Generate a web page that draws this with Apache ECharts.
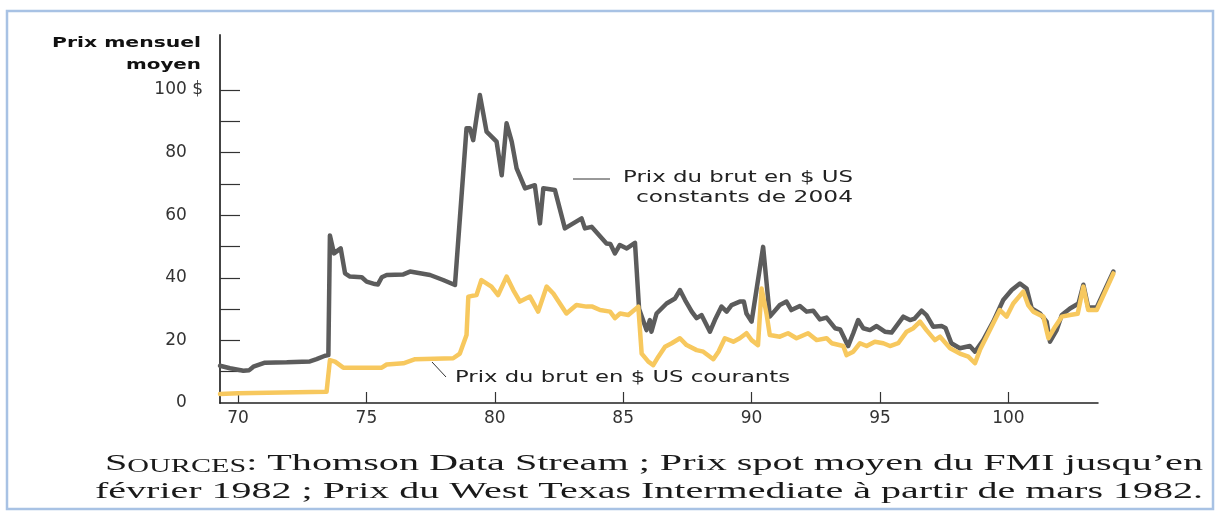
<!DOCTYPE html>
<html>
<head>
<meta charset="utf-8">
<script src="https://cdn.jsdelivr.net/npm/echarts@6/dist/echarts.min.js"></script>
<style>
html,body{margin:0;padding:0;background:#fff;}
#chart{width:1218px;height:516px;}
</style>
</head>
<body>
<div id="chart"></div>
<script>
// ---- data (years as 2-digit values, 100 = 2000) ----
const realYears = [69.30,69.69,70.21,70.44,70.60,71.05,71.90,72.80,73.06,73.39,73.52,73.58,73.74,74.00,74.17,74.36,74.82,75.01,75.33,75.45,75.60,75.79,76.44,76.70,77.48,77.99,78.45,78.90,79.03,79.16,79.42,79.55,79.68,80.07,80.27,80.46,80.66,80.85,81.18,81.56,81.76,81.89,82.34,82.73,83.38,83.51,83.77,84.35,84.50,84.68,84.87,85.14,85.46,85.62,85.91,86.04,86.10,86.30,86.69,87.02,87.21,87.41,87.67,87.86,88.05,88.38,88.57,88.83,89.03,89.22,89.54,89.70,89.80,90.00,90.45,90.71,91.10,91.36,91.55,91.88,92.14,92.40,92.66,92.92,93.25,93.45,93.76,93.96,94.15,94.35,94.61,94.87,95.19,95.45,95.58,95.91,96.17,96.35,96.62,96.81,97.07,97.40,97.55,97.78,98.11,98.50,98.70,99.02,99.41,99.80,100.13,100.45,100.71,100.91,101.23,101.49,101.62,101.88,102.08,102.40,102.73,102.92,103.11,103.44,104.09];
const realPrices = [11.9,11.1,10.3,10.5,11.6,12.9,13.0,13.3,14.0,15.1,15.3,53.5,47.8,49.4,41.4,40.4,40.2,38.8,38.0,37.9,40.2,40.9,41.1,42.0,40.9,39.3,37.7,87.8,87.8,84.0,98.4,92.6,86.7,83.5,72.8,89.4,83.5,75.0,68.6,69.6,57.4,68.6,68.1,55.8,59.0,55.8,56.3,51.0,50.8,47.8,50.5,49.4,51.2,30.0,23.3,26.5,22.8,28.6,31.8,33.4,36.1,32.9,29.2,27.1,28.1,22.8,26.5,30.8,29.2,31.3,32.4,32.4,28.6,26.0,49.9,27.6,31.3,32.4,29.7,31.0,29.2,29.5,26.7,27.3,23.9,23.5,18.2,22.3,26.5,23.9,23.3,24.6,22.8,22.5,23.9,27.6,26.5,27.0,29.5,28.1,24.4,24.6,24.0,19.1,17.5,18.2,16.4,20.1,26.0,32.9,36.1,38.2,36.6,30.2,28.6,26.0,19.6,23.3,28.1,30.2,31.8,37.8,30.5,30.5,42.0];

const nominalYears = [69.30,70.00,73.45,73.58,73.78,74.10,75.60,75.79,76.44,76.90,78.38,78.64,78.90,78.97,79.29,79.48,79.87,80.13,80.46,80.72,80.98,81.37,81.69,82.02,82.28,82.79,83.18,83.57,83.80,84.10,84.49,84.68,84.88,85.20,85.59,85.72,85.98,86.17,86.37,86.63,86.89,87.21,87.47,87.86,88.12,88.51,88.71,88.96,89.29,89.54,89.80,90.00,90.25,90.39,90.58,90.71,91.10,91.42,91.75,92.20,92.53,92.92,93.12,93.57,93.70,93.96,94.22,94.48,94.80,95.13,95.39,95.71,96.04,96.30,96.56,96.81,97.14,97.34,97.73,98.11,98.44,98.70,98.89,99.28,99.67,99.93,100.19,100.58,100.77,100.97,101.36,101.56,101.82,102.08,102.40,102.70,102.92,103.11,103.44,104.09];
const nominalPrices = [2.9,3.1,3.6,13.7,13.2,11.3,11.3,12.3,12.7,14.0,14.3,15.8,21.7,34.0,34.5,39.3,37.2,34.5,40.4,36.1,32.4,34.0,29.2,37.2,35.0,28.6,31.3,30.8,30.8,29.7,29.2,27.1,28.6,28.1,30.8,15.8,13.2,12.1,14.8,18.0,19.1,20.7,18.5,16.9,16.4,14.0,16.4,20.7,19.6,20.7,22.3,20.1,18.5,36.6,28.6,21.7,21.2,22.3,20.7,22.3,20.1,20.7,19.1,18.2,15.3,16.4,19.1,18.2,19.6,19.1,18.2,19.1,22.8,23.9,26.0,23.3,20.1,21.2,17.5,15.8,14.8,12.7,16.9,23.3,29.7,27.6,31.8,35.6,31.3,29.2,27.6,20.7,24.4,27.6,28.1,28.5,37.2,29.7,29.7,41.4];

const xTickValues = [70,75,80,85,90,95,100];
const yLabelValues = [0,20,40,60,80,100];
const yTickValues = [10,20,30,40,50,60,70,80,90,100];

const axisTitleLines = ['Prix mensuel', 'moyen'];
const realLabelLines = ['Prix du brut en $ US', 'constants de 2004'];
const nominalLabel = 'Prix du brut en $ US courants';
const sourceLine1Rest = ': Thomson Data Stream ; Prix spot moyen du FMI jusqu\u2019en';
const sourceLine2 = 'f\u00e9vrier 1982 ; Prix du West Texas Intermediate \u00e0 partir de mars 1982.';

// ---- layout ----
const W = 1218;
const GRID_LEFT = 220, GRID_TOP = 35, GRID_BOTTOM = 113;
const AXIS_RIGHT_PX = 1098;          // where the drawn x-axis stops
const X_MIN = 69.3, X_AXIS_MAX = 103.49, X_DATA_MAX = 104.25; // data run slightly past the axis end
const Y_MIN = 0, Y_MAX = 117.6;
const pxPerYear = (AXIS_RIGHT_PX - GRID_LEFT) / (X_AXIS_MAX - X_MIN);
const dataRightPx = GRID_LEFT + (X_DATA_MAX - X_MIN) * pxPerYear;

// ---- helpers ----
const ctx = document.createElement('canvas').getContext('2d');
function measure(text, font) { ctx.font = font; return ctx.measureText(text).width; }

const sansFont = '"DejaVu Sans", sans-serif';
const serifFont = '"Liberation Serif", "DejaVu Serif", serif';

function stretchText(text, anchorX, y, align, size, weight, family, targetWidth, color) {
  const font = weight + ' ' + size + 'px ' + family;
  const s = targetWidth / measure(text, font);
  return {
    type: 'text', x: anchorX, y: y, scaleX: s, originX: 0, originY: 0, z: 50,
    style: { text: text, x: 0, y: 0, align: align, verticalAlign: 'middle',
      font: font, fill: color }
  };
}

const graphics = [];
graphics.push({ type: 'rect', z: 1, shape: { x: 7, y: 11, width: 1206, height: 498 },
  style: { fill: 'none', stroke: '#a8c2e4', lineWidth: 2.5 } });
graphics.push(stretchText(axisTitleLines[0], 201, 43, 'right', 14.5, 'bold', sansFont, 149, '#111'));
graphics.push(stretchText(axisTitleLines[1], 201, 65, 'right', 14.5, 'bold', sansFont, 75, '#111'));
graphics.push(stretchText(realLabelLines[0], 853, 178, 'right', 15.5, 'normal', sansFont, 230, '#222'));
graphics.push(stretchText(realLabelLines[1], 853, 198, 'right', 15.5, 'normal', sansFont, 217, '#222'));
graphics.push(stretchText(nominalLabel, 455, 378, 'left', 15.5, 'normal', sansFont, 335, '#222'));
graphics.push({ type: 'line', z: 50, shape: { x1: 573, y1: 179, x2: 610, y2: 179 }, style: { stroke: '#333', lineWidth: 1 } });
graphics.push({ type: 'line', z: 50, shape: { x1: 432, y1: 362, x2: 446, y2: 377 }, style: { stroke: '#333', lineWidth: 1 } });

(function () {
  const big = 24, small = 18;
  const w1 = measure('S', 'normal ' + big + 'px ' + serifFont) +
             measure('OURCES', 'normal ' + small + 'px ' + serifFont) +
             measure(sourceLine1Rest, 'normal ' + big + 'px ' + serifFont);
  const s1 = (1203 - 105) / w1;
  graphics.push({
    type: 'text', x: 1203, y: 464, scaleX: s1, z: 50,
    style: {
      text: '{a|S}{b|OURCES}{a|' + sourceLine1Rest + '}',
      x: 0, y: 0, align: 'right', verticalAlign: 'middle',
      font: 'normal ' + big + 'px ' + serifFont, fill: '#1a1a1a',
      rich: {
        a: { fontSize: big, fontFamily: serifFont, fill: '#1a1a1a', color: '#1a1a1a' },
        b: { fontSize: small, fontFamily: serifFont, fill: '#1a1a1a', color: '#1a1a1a', verticalAlign: 'bottom' }
      }
    }
  });
  graphics.push(stretchText(sourceLine2, 1203, 492, 'right', big, 'normal', serifFont, 1203 - 95, '#1a1a1a'));
})();

const chart = echarts.init(document.getElementById('chart'), null, { renderer: 'canvas' });
chart.setOption({
  animation: false,
  backgroundColor: '#fff',
  grid: [
    // grid 0: plotting area for the series (extends a little past the drawn axis)
    { left: GRID_LEFT, right: W - dataRightPx, top: GRID_TOP, bottom: GRID_BOTTOM, containLabel: false },
    // grid 1: the visible axes
    { left: GRID_LEFT, right: W - AXIS_RIGHT_PX, top: GRID_TOP, bottom: GRID_BOTTOM, containLabel: false }
  ],
  xAxis: [
    { gridIndex: 0, type: 'value', min: X_MIN, max: X_DATA_MAX, show: false },
    {
      gridIndex: 1, type: 'value', min: X_MIN, max: X_AXIS_MAX,
      axisLine: { show: true, lineStyle: { color: '#222', width: 1.5 } },
      axisTick: { show: true, inside: true, length: 11, customValues: xTickValues, lineStyle: { color: '#333', width: 1.2 } },
      axisLabel: { customValues: xTickValues, margin: 7, fontSize: 17, fontFamily: sansFont, color: '#333' },
      splitLine: { show: false }
    }
  ],
  yAxis: [
    { gridIndex: 0, type: 'value', min: Y_MIN, max: Y_MAX, show: false },
    {
      gridIndex: 1, type: 'value', min: Y_MIN, max: Y_MAX,
      axisLine: { show: true, lineStyle: { color: '#444', width: 2 } },
      axisTick: { show: true, inside: true, length: 20, customValues: yTickValues, lineStyle: { color: '#333', width: 1.2 } },
      axisLabel: {
        customValues: yLabelValues, margin: 17, fontSize: 17, fontFamily: sansFont, color: '#333',
        formatter: function (v) { return v === 100 ? '100{d| $}' : v + '{h| $}'; },
        rich: {
          d: { fontSize: 17, fontFamily: sansFont, color: '#333' },
          h: { fontSize: 17, fontFamily: sansFont, color: 'rgba(0,0,0,0)' }
        }
      },
      splitLine: { show: false }
    }
  ],
  series: [
    {
      name: 'Prix du brut en $ US constants de 2004', type: 'line', xAxisIndex: 0, yAxisIndex: 0,
      showSymbol: false, symbol: 'none',
      data: realYears.map((x, i) => [x, realPrices[i]]),
      lineStyle: { color: '#5c5c5c', width: 4.5, join: 'round', cap: 'round' }, z: 3
    },
    {
      name: 'Prix du brut en $ US courants', type: 'line', xAxisIndex: 0, yAxisIndex: 0,
      showSymbol: false, symbol: 'none',
      data: nominalYears.map((x, i) => [x, nominalPrices[i]]),
      lineStyle: { color: '#f7c85e', width: 4.5, join: 'round', cap: 'round' }, z: 4
    }
  ],
  graphic: graphics
});
</script>
</body>
</html>
